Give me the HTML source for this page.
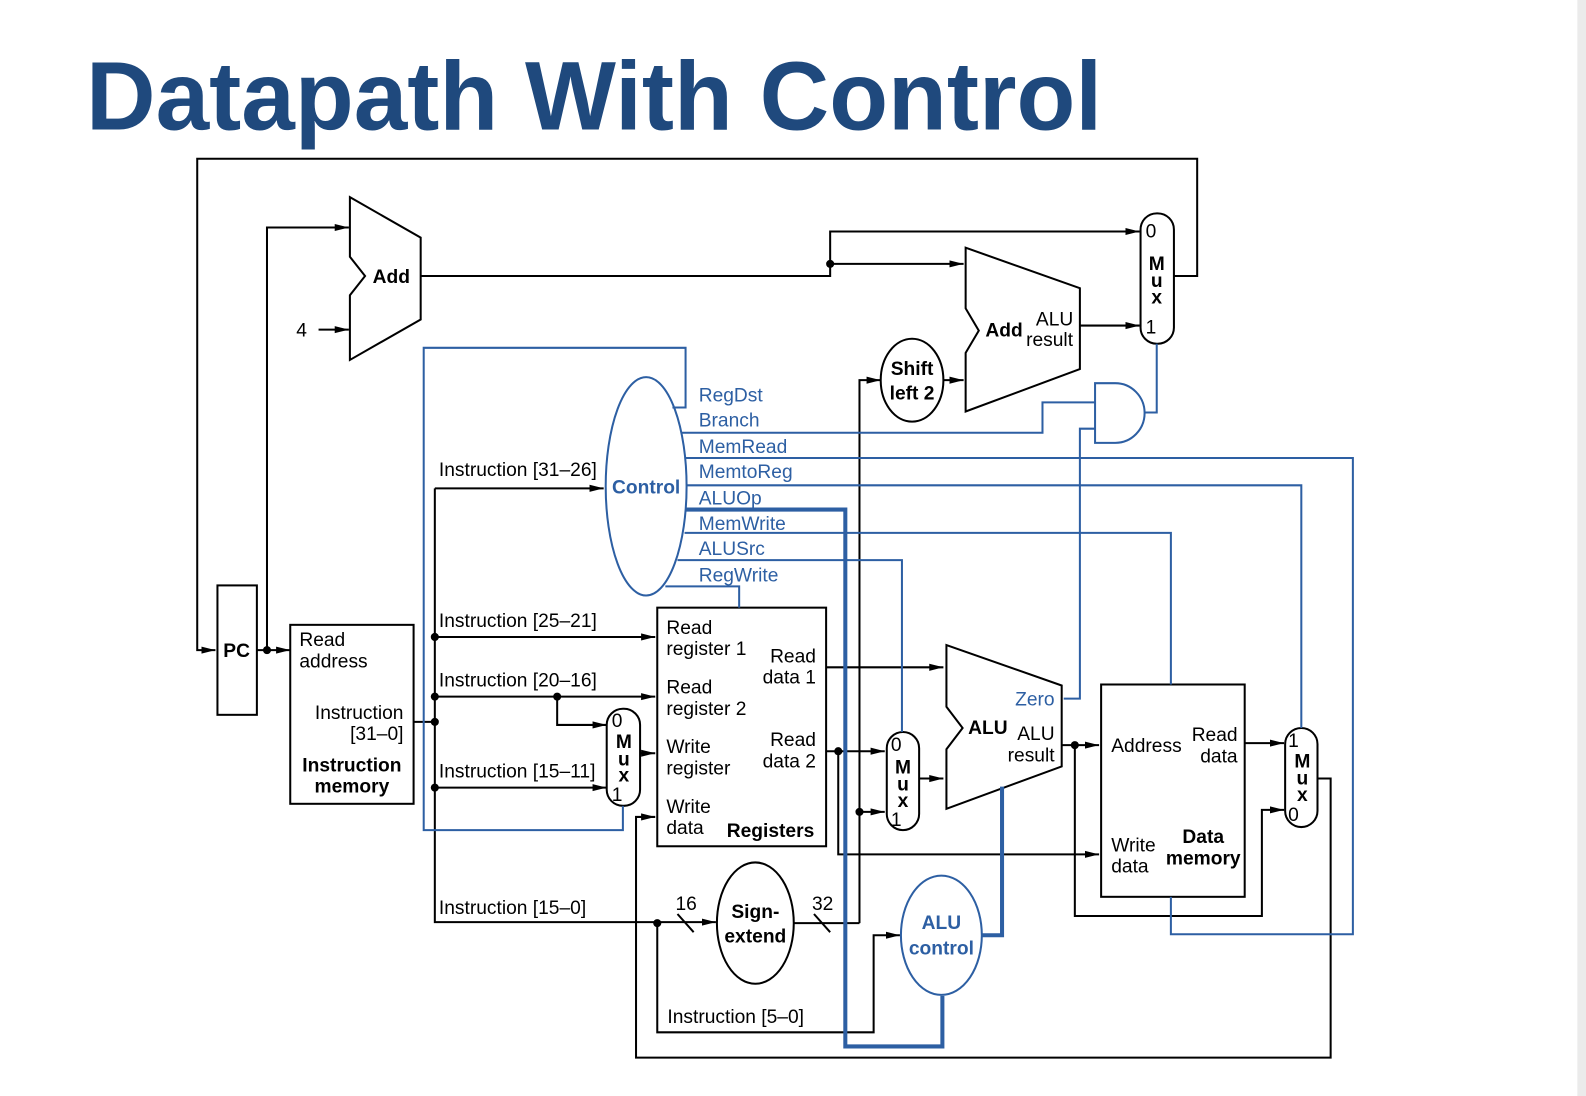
<!DOCTYPE html>
<html><head><meta charset="utf-8"><style>
html,body{margin:0;padding:0;background:#fff;width:1586px;height:1096px;overflow:hidden}
svg{display:block}
text{font-family:"Liberation Sans",Arial,sans-serif;font-size:19px}
.b{font-weight:bold}
.bl{fill:#2d5fa3}
</style></head><body>
<svg width="1586" height="1096" viewBox="0 0 1568.5 1084" xmlns="http://www.w3.org/2000/svg">
<defs>
<marker id="a" viewBox="0 0 14 10" refX="14" refY="5" markerWidth="14" markerHeight="10" markerUnits="userSpaceOnUse" orient="auto"><path d="M0,1.5 L14,5 L0,8.5 z" fill="#000"/></marker>
</defs>
<rect x="1560" y="0" width="10" height="1084" fill="#ebebeb"/>
<text x="85" y="128" class="b" style="font-size:96px" fill="#1f497d" textLength="1005" lengthAdjust="spacingAndGlyphs">Datapath With Control</text>

<g fill="none" stroke="#000" stroke-width="2">
<path d="M1161,273 H1184 V157 H195 V643 H213" marker-end="url(#a)"/>
<rect x="215" y="579" width="39" height="128"/>
<path d="M254,643 H287" marker-end="url(#a)"/>
<path d="M264,643 V225 H345" marker-end="url(#a)"/>
<polygon points="346,195 416,235 416,316 346,356 346,292 361,273 346,254" fill="#fff"/>
<path d="M315,326 H345" marker-end="url(#a)"/>
<path d="M416,273 H821 V229 H1127" marker-end="url(#a)"/>
<path d="M821,261 H953" marker-end="url(#a)"/>
<polygon points="955,245 1068,285 1068,365 955,407 955,349 968,327 955,305" fill="#fff"/>
<path d="M1068,322 H1127" marker-end="url(#a)"/>
<rect x="1128" y="211" width="33" height="129" rx="16" fill="#fff"/>
<path d="M850,913 V376 H871" marker-end="url(#a)"/>
<ellipse cx="902" cy="376" rx="31" ry="41" fill="#fff"/>
<path d="M933,376 H953" marker-end="url(#a)"/>
<rect x="287" y="618" width="122" height="177"/>
<path d="M409,714 H430"/>
<path d="M430,483 V912 H708" marker-end="url(#a)"/>
<path d="M430,483 H597" marker-end="url(#a)"/>
<path d="M430,630 H648" marker-end="url(#a)"/>
<path d="M430,689 H648" marker-end="url(#a)"/>
<path d="M551,689 V717 H600" marker-end="url(#a)"/>
<path d="M430,779 H600" marker-end="url(#a)"/>
<rect x="600" y="701" width="33" height="96" rx="16"/>
<path d="M633,745 H648" marker-end="url(#a)"/>
<rect x="650" y="601" width="167" height="236"/>
<path d="M817,660 H933" marker-end="url(#a)"/>
<path d="M817,743 H875" marker-end="url(#a)"/>
<path d="M829,743 V845 H1087" marker-end="url(#a)"/>
<ellipse cx="747" cy="913" rx="38" ry="60"/>
<path d="M670,904 L686,922 M805,904 L821,922"/>
<path d="M785,913 H850"/>
<path d="M850,803 H875" marker-end="url(#a)"/>
<path d="M650,913 V1021 H864 V925 H890" marker-end="url(#a)"/>
<rect x="877" y="724" width="32" height="97" rx="16" fill="#fff"/>
<path d="M909,770 H933" marker-end="url(#a)"/>
<polygon points="936,638 1050,678 1050,758 936,800 936,741 952,720 936,699"/>
<path d="M1050,737 H1087" marker-end="url(#a)"/>
<path d="M1063,737 V906 H1248 V801 H1270" marker-end="url(#a)"/>
<rect x="1089" y="677" width="142" height="210"/>
<path d="M1231,735 H1270" marker-end="url(#a)"/>
<rect x="1271" y="720" width="32" height="98" rx="16"/>
<path d="M1303,770 H1316 V1046 H629 V808 H648" marker-end="url(#a)"/>
</g>
<g fill="#000">
<circle cx="264" cy="643" r="4"/><circle cx="821" cy="261" r="4"/>
<circle cx="430" cy="630" r="4"/><circle cx="430" cy="689" r="4"/><circle cx="430" cy="714" r="4"/><circle cx="430" cy="779" r="4"/>
<circle cx="551" cy="689" r="4"/><circle cx="829" cy="743" r="4"/><circle cx="850" cy="803" r="4"/>
<circle cx="650" cy="913" r="4"/><circle cx="1063" cy="737" r="4"/>
</g>

<g fill="none" stroke="#2d5fa3" stroke-width="2">
<path d="M665,403 H678 V344 H419 V821 H616 V797"/>
<path d="M673,428 H1031 V398 H1083"/>
<path d="M1083,379 H1103 A29,29.5 0 0 1 1103,438 H1083 Z" fill="#fff"/>
<path d="M1132,408 H1144 V340"/>
<path d="M1052,691 H1068 V424 H1083"/>
<path d="M677,453 H1338 V924 H1158 V887"/>
<path d="M679,480 H1287 V720"/>
<path d="M677,527 H1158 V677"/>
<path d="M670,554 H892 V724"/>
<path d="M658,580 H731 V601"/>
<path d="M678,504 H836 V1035 H932 V985" stroke-width="4"/>
<path d="M971,925 H991 V778" stroke-width="4"/>
<ellipse cx="639" cy="481" rx="40" ry="108"/>
<ellipse cx="931" cy="925" rx="40" ry="59" fill="#fff"/>
</g>

<text x="387" y="280" class="b" text-anchor="middle">Add</text>
<text x="293" y="333">4</text>
<text x="234" y="650" class="b" text-anchor="middle">PC</text>
<text x="993" y="333" class="b" text-anchor="middle">Add</text>
<text x="1043" y="322" text-anchor="middle">ALU</text>
<text x="1038" y="342" text-anchor="middle">result</text>
<text x="902" y="371" class="b" text-anchor="middle">Shift</text>
<text x="902" y="395" class="b" text-anchor="middle">left 2</text>
<text x="1133" y="235">0</text>
<text x="1144" y="267" class="b" text-anchor="middle">M</text>
<text x="1144" y="284" class="b" text-anchor="middle">u</text>
<text x="1144" y="300" class="b" text-anchor="middle">x</text>
<text x="1133" y="330">1</text>

<text x="639" y="488" class="b bl" text-anchor="middle">Control</text>
<text x="691" y="397" class="bl">RegDst</text>
<text x="691" y="422" class="bl">Branch</text>
<text x="691" y="448" class="bl">MemRead</text>
<text x="691" y="473" class="bl">MemtoReg</text>
<text x="691" y="499" class="bl">ALUOp</text>
<text x="691" y="524" class="bl">MemWrite</text>
<text x="691" y="549" class="bl">ALUSrc</text>
<text x="691" y="575" class="bl">RegWrite</text>
<text x="1043" y="698" class="bl" text-anchor="end">Zero</text>

<text x="434" y="471">Instruction [31–26]</text>
<text x="434" y="620">Instruction [25–21]</text>
<text x="434" y="679">Instruction [20–16]</text>
<text x="434" y="769">Instruction [15–11]</text>
<text x="434" y="904">Instruction [15–0]</text>
<text x="660" y="1012">Instruction [5–0]</text>

<text x="296" y="639">Read</text>
<text x="296" y="660">address</text>
<text x="399" y="711" text-anchor="end">Instruction</text>
<text x="399" y="732" text-anchor="end">[31–0]</text>
<text x="348" y="763" class="b" text-anchor="middle">Instruction</text>
<text x="348" y="784" class="b" text-anchor="middle">memory</text>

<text x="605" y="719">0</text>
<text x="617" y="740" class="b" text-anchor="middle">M</text>
<text x="617" y="757" class="b" text-anchor="middle">u</text>
<text x="617" y="773" class="b" text-anchor="middle">x</text>
<text x="605" y="792">1</text>

<text x="659" y="627">Read</text>
<text x="659" y="648">register 1</text>
<text x="659" y="686">Read</text>
<text x="659" y="707">register 2</text>
<text x="659" y="745">Write</text>
<text x="659" y="766">register</text>
<text x="659" y="804">Write</text>
<text x="659" y="825">data</text>
<text x="762" y="828" class="b" text-anchor="middle">Registers</text>
<text x="807" y="655" text-anchor="end">Read</text>
<text x="807" y="676" text-anchor="end">data 1</text>
<text x="807" y="738" text-anchor="end">Read</text>
<text x="807" y="759" text-anchor="end">data 2</text>

<text x="747" y="908" class="b" text-anchor="middle">Sign-</text>
<text x="747" y="932" class="b" text-anchor="middle">extend</text>
<text x="668" y="900">16</text>
<text x="803" y="900">32</text>

<text x="881" y="743">0</text>
<text x="893" y="765" class="b" text-anchor="middle">M</text>
<text x="893" y="782" class="b" text-anchor="middle">u</text>
<text x="893" y="798" class="b" text-anchor="middle">x</text>
<text x="881" y="817">1</text>

<text x="977" y="726" class="b" text-anchor="middle">ALU</text>
<text x="1043" y="732" text-anchor="end">ALU</text>
<text x="1043" y="753" text-anchor="end">result</text>

<text x="931" y="919" class="b bl" text-anchor="middle">ALU</text>
<text x="931" y="944" class="b bl" text-anchor="middle">control</text>

<text x="1099" y="744">Address</text>
<text x="1224" y="733" text-anchor="end">Read</text>
<text x="1224" y="754" text-anchor="end">data</text>
<text x="1099" y="842">Write</text>
<text x="1099" y="863">data</text>
<text x="1190" y="834" class="b" text-anchor="middle">Data</text>
<text x="1190" y="855" class="b" text-anchor="middle">memory</text>

<text x="1274" y="739">1</text>
<text x="1288" y="759" class="b" text-anchor="middle">M</text>
<text x="1288" y="776" class="b" text-anchor="middle">u</text>
<text x="1288" y="792" class="b" text-anchor="middle">x</text>
<text x="1274" y="812">0</text>
</svg>
</body></html>
